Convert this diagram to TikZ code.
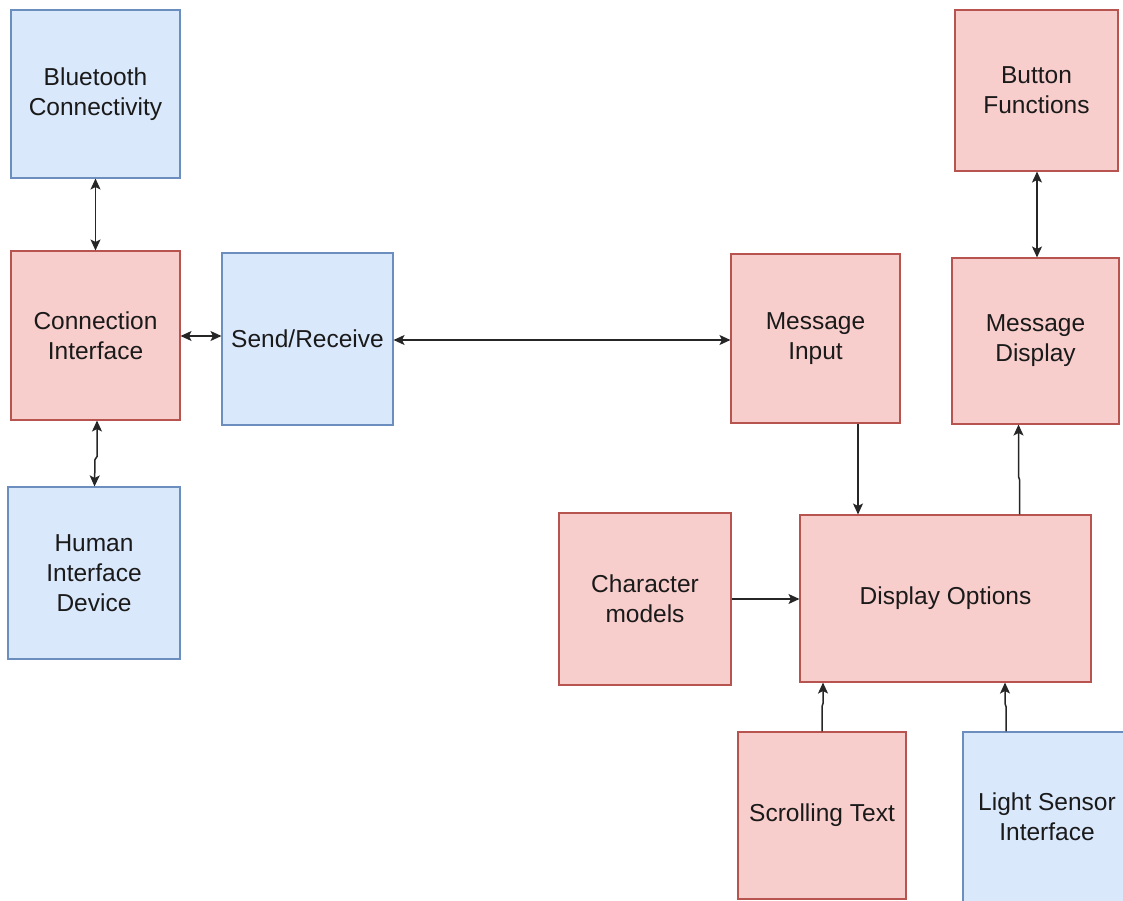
\documentclass[tikz,border=0pt]{standalone}
\usepackage{fontspec}
\setmainfont{Liberation Sans}
\usetikzlibrary{arrows.meta}
\definecolor{redfill}{HTML}{F8CECC}
\definecolor{redline}{HTML}{B85450}
\definecolor{bluefill}{HTML}{DAE8FC}
\definecolor{blueline}{HTML}{6C8EBF}
\definecolor{txt}{HTML}{1A1A1A}
\tikzset{
  box/.style={rectangle, line width=1.1pt, align=center, text=txt,
    font=\fontsize{24.5}{30}\selectfont, inner sep=0pt},
  redbox/.style={box, fill=redfill, draw=redline},
  bluebox/.style={box, fill=bluefill, draw=blueline},
  tip/.tip={Stealth[length=11pt,width=10pt,inset=2.5pt]},
  conn/.style={line width=1.5pt, draw=black!85, -tip},
  biconn/.style={line width=1.5pt, draw=black!85, tip-tip}
}
\begin{document}
\begin{tikzpicture}[x=1pt,y=-1pt]
\useasboundingbox (0,0) rectangle (1123,901);
\node[bluebox, minimum width=169, minimum height=168] (bt) at (95.5,94) {Bluetooth\\Connectivity};
\node[redbox, minimum width=169, minimum height=169] (ci) at (95.5,335.5) {Connection\\Interface};
\node[bluebox, minimum width=172, minimum height=172] (hid) at (94,573) {Human\\Interface\\Device};
\node[bluebox, minimum width=171, minimum height=172] (sr) at (307.5,339) {Send/Receive};
\node[redbox, minimum width=169, minimum height=169] (mi) at (815.5,338.5) {Message\\Input};
\node[redbox, minimum width=167, minimum height=166] (md) at (1035.5,341) {Message\\Display};
\node[redbox, minimum width=163, minimum height=161] (bf) at (1036.5,90.5) {Button\\Functions};
\node[redbox, minimum width=172, minimum height=172] (cm) at (645,599) {Character\\models};
\node[redbox, minimum width=291, minimum height=167] (do) at (945.5,598.5) {Display Options};
\node[redbox, minimum width=168, minimum height=167] (st) at (822,815.5) {Scrolling Text};
\node[bluebox, minimum width=168, minimum height=170] (ls) at (1047,817) {Light Sensor\\Interface};

\draw[biconn] (bt.south) -- (ci.north);
\draw[biconn] (ci.east |- 0,336) -- (sr.west |- 0,336);
\draw[biconn] ([xshift=1.5pt]ci.south) -- ++(0,36) -- ++(-2,3) -- (hid.north -| 94.5,0);
\draw[biconn] (sr.east |- 0,340) -- (mi.west |- 0,340);
\draw[conn] (mi.south -| 858,0) -- (do.north -| 858,0);
\draw[conn] (do.north -| 1019.5,0) -- ++(0,-35) -- ++(-1,-3) -- (md.south -| 1018.5,0);
\draw[biconn] (md.north -| 1037,0) -- (bf.south -| 1037,0);
\draw[conn] (cm.east |- 0,599) -- (do.west |- 0,599);
\draw[conn] (st.north -| 822,0) -- ++(0,-25) -- ++(1,-3) -- (do.south -| 823,0);
\draw[conn] (ls.north -| 1006,0) -- ++(0,-25) -- ++(-1,-3) -- (do.south -| 1005,0);
\end{tikzpicture}
\end{document}
